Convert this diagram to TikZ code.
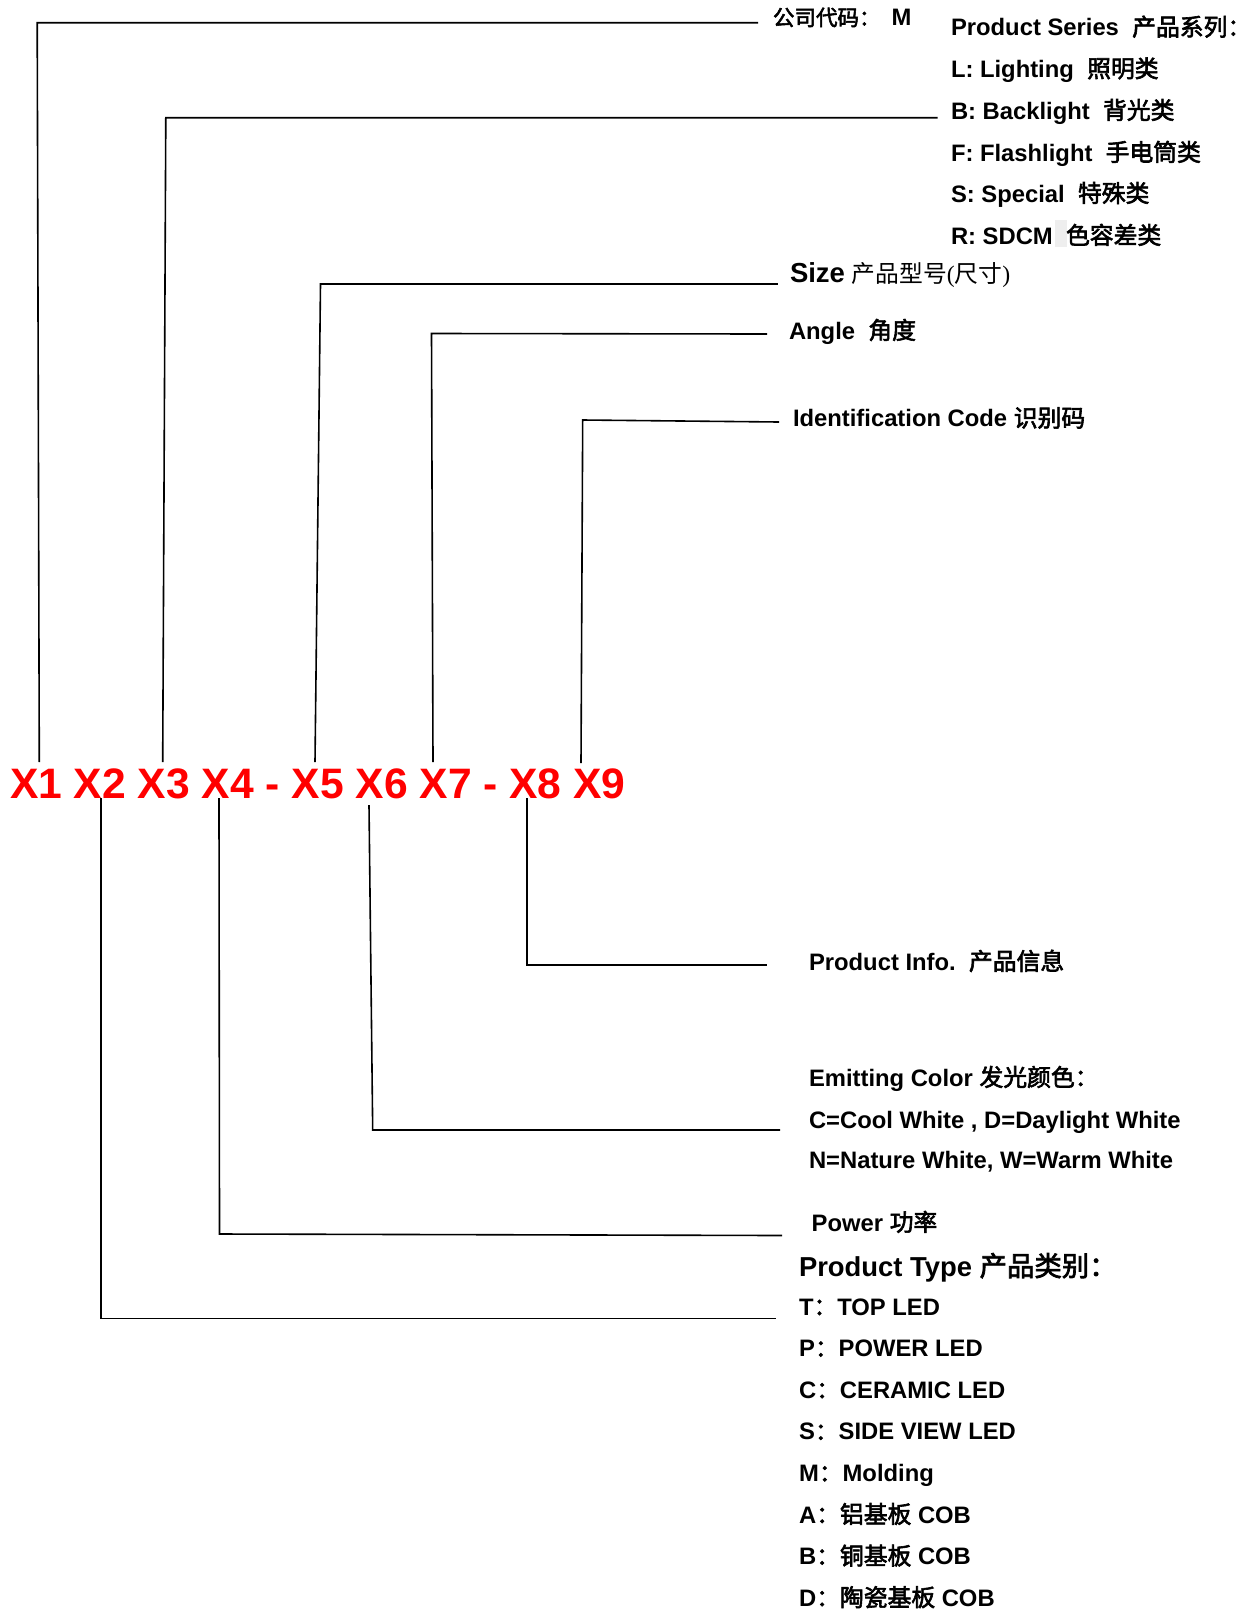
\documentclass[tikz,border=0pt]{standalone}
\usepackage{fontspec}
\setmainfont{Liberation Sans}
\newfontfamily\cjkfont{Noto Sans CJK SC}[FakeBold=2.5]
\newfontfamily\cjkreg{Noto Sans CJK SC}
\newfontfamily\seriffont{Liberation Serif}
\newcommand\zh[1]{{\cjkfont\mdseries #1}}
\definecolor{codered}{RGB}{255,0,0}
\definecolor{hilite}{RGB}{238,238,238}
\begin{document}
\begin{tikzpicture}[x=1pt,y=-1pt,
  conn/.style={line width=1.6pt, line join=miter},
  lbl/.style={anchor=base west, inner sep=0pt, outer sep=0pt, font=\bfseries\fontsize{23.8}{28}\selectfont},
  biglbl/.style={lbl, font=\bfseries\fontsize{27.4}{32}\selectfont},
  codes/.style={anchor=base west, inner sep=0pt, outer sep=0pt, text=codered, font=\bfseries\fontsize{42.6}{48}\selectfont}]
\useasboundingbox (0,0) rectangle (1253,1609);
\fill[white] (0,0) rectangle (1253,1609);

% code row
\node[codes] (code) at (10,798) {X1 X2 X3 X4 - X5 X6 X7 - X8 X9};

% highlight box in R line
\fill[hilite] (1055,220) rectangle (1067,247);

% labels, top right
\node[lbl] (lblM) at (773,25.5) {\zh{\fontsize{21.5}{24}\selectfont 公司代码：}\hspace{11pt}M};
\node[lbl] (lblPS) at (951,35.7) {Product Series\ \ \zh{产品系列：}};
\node[lbl] (lblL) at (951,77.3) {L: Lighting\ \ \zh{照明类}};
\node[lbl] (lblB) at (951,119) {B: Backlight\ \ \zh{背光类}};
\node[lbl] (lblF) at (951,161) {F: Flashlight\ \ \zh{手电筒类}};
\node[lbl] (lblS) at (951,202) {S: Special\ \ \zh{特殊类}};
\node[lbl] (lblR) at (951,244) {R: SDCM\ \ \zh{色容差类}};
\node[lbl] (lblSize) at (790,282.7) {{\fontsize{27.5}{32}\selectfont Size}\ {\cjkreg\mdseries 产品型号}{\seriffont\mdseries(}{\cjkreg\mdseries 尺寸}{\seriffont\mdseries)}};
\node[lbl] (lblAngle) at (789,339) {Angle\ \ \zh{角度}};
\node[lbl] (lblID) at (793,426.7) {Identification Code \zh{识别码}};

% labels, bottom right
\node[lbl] (lblInfo) at (809,970) {Product Info.\ \ \zh{产品信息}};
\node[lbl] (lblEC) at (809,1086) {Emitting Color \zh{发光颜色：}};
\node[lbl] (lblC) at (809,1128) {C=Cool White , D=Daylight White};
\node[lbl] (lblN) at (809,1168) {N=Nature White, W=Warm White};
\node[lbl] (lblPow) at (811.7,1231) {Power \zh{功率}};
\node[biglbl] (lblPT) at (799,1276) {Product Type \zh{产品类别：}};
\node[lbl] (lblT) at (799,1315) {T\zh{：}TOP LED};
\node[lbl] (lblP) at (799,1356.6) {P\zh{：}POWER LED};
\node[lbl] (lblCe) at (799,1398.2) {C\zh{：}CERAMIC LED};
\node[lbl] (lblSV) at (799,1439.8) {S\zh{：}SIDE VIEW LED};
\node[lbl] (lblMo) at (799,1481.4) {M\zh{：}Molding};
\node[lbl] (lblA) at (799,1523) {A\zh{：铝基板} COB};
\node[lbl] (lblBc) at (799,1564.6) {B\zh{：铜基板} COB};
\node[lbl] (lblD) at (799,1606.2) {D\zh{：陶瓷基板} COB};

% connector points
\coordinate (a1) at (39.3,762);  \coordinate (b1) at (37.2,22.7);  \coordinate (e1) at (758,22.7);
\coordinate (a3) at (162.7,762); \coordinate (b3) at (165.8,117.7); \coordinate (e3) at (937.6,117.7);
\coordinate (a5) at (315,762);   \coordinate (b5) at (320.5,284);  \coordinate (e5) at (777.8,284);
\coordinate (a7) at (433,762);   \coordinate (b7) at (431.5,333.5); \coordinate (e7) at (767,334);
\coordinate (a9) at (581,763);   \coordinate (b9) at (582.7,420);  \coordinate (e9) at (779,422);
\coordinate (a8) at (527,798);   \coordinate (b8) at (527,965);    \coordinate (e8) at (767,965);
\coordinate (a6) at (369,805);   \coordinate (b6) at (372.7,1130); \coordinate (e6) at (780,1130);
\coordinate (a4) at (219,798);   \coordinate (b4) at (219.5,1234); \coordinate (e4) at (782,1235.5);
\coordinate (a2) at (100.7,798); \coordinate (b2) at (100.7,1318.5); \coordinate (e2) at (776,1318.5);

\draw[conn] (a1) -- (b1) -- (e1);
\draw[conn] (a3) -- (b3) -- (e3);
\draw[conn] (a5) -- (b5) -- (e5);
\draw[conn] (a7) -- (b7) -- (e7);
\draw[conn] (a9) -- (b9) -- (e9);
\draw[conn] (a8) -- (b8) -- (e8);
\draw[conn] (a6) -- (b6) -- (e6);
\draw[conn] (a4) -- (b4) -- (e4);
\draw[conn] (a2) -- (b2) -- (e2);
\end{tikzpicture}
\end{document}
